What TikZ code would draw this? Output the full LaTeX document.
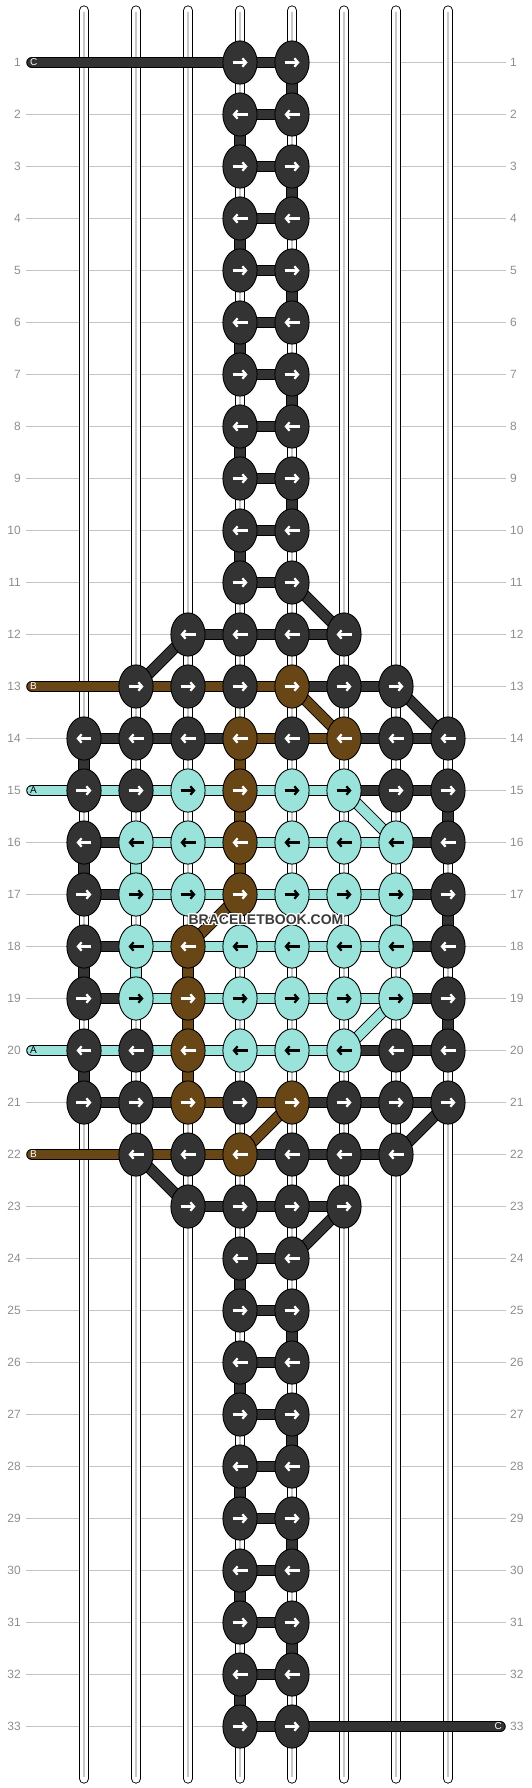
\documentclass[tikz,border=0pt]{standalone}
\usepackage{fontspec}
\setmainfont{Liberation Sans}
\usepackage{contour}
\contourlength{1.3pt}
\usetikzlibrary{shapes.geometric,arrows.meta}
\definecolor{cD}{HTML}{333333}
\definecolor{cA}{HTML}{99E3DA}
\definecolor{cB}{HTML}{684616}
\definecolor{gridline}{HTML}{C4C4C4}
\definecolor{gridtext}{HTML}{8E8E8E}
\definecolor{strandline}{HTML}{C8C8C8}
\definecolor{wmtext}{HTML}{3A3A3A}
\pgfdeclarelayer{grid}
\pgfdeclarelayer{strands}
\pgfdeclarelayer{bars}
\pgfsetlayers{grid,strands,bars,main}
\tikzset{
  kn/.style={ellipse, draw=black, line width=0.9pt, minimum width=34.2pt, minimum height=43.2pt, inner sep=0pt},
  arrowline/.style={line width=2.3pt, -{Straight Barb[length=3.6pt,width=8.4pt]}},
  arrR/.style={path picture={\draw[arrowline,#1] ([xshift=-7.5pt]path picture bounding box.center) -- ([xshift=7.5pt]path picture bounding box.center);}},
  arrL/.style={path picture={\draw[arrowline,#1] ([xshift=7.5pt]path picture bounding box.center) -- ([xshift=-7.5pt]path picture bounding box.center);}},
  DR/.style={kn, fill=cD, arrR=white}, DL/.style={kn, fill=cD, arrL=white},
  AR/.style={kn, fill=cA, arrR=black}, AL/.style={kn, fill=cA, arrL=black},
  BR/.style={kn, fill=cB, arrR=white}, BL/.style={kn, fill=cB, arrL=white},
  bar/.style={draw=black, line width=0.9pt, double distance=9.7pt},
  bD/.style={bar, double=cD}, bA/.style={bar, double=cA}, bB/.style={bar, double=cB},
  strand/.style={draw=black, line width=0.9pt, double=white, double distance=8.4pt, line cap=round},
  strandmid/.style={draw=strandline, line width=1.5pt},
  rowline/.style={draw=gridline, line width=0.9pt},
  rowlab/.style={text=gridtext, font=\fontsize{12}{12}\selectfont, inner sep=0pt},
  endlab/.style={font=\fontsize{10}{10}\selectfont, inner sep=0pt},
}
\newcommand\hseg[3]{\pgfmathtruncatemacro\segnx{#2+1}\draw[#3] (k-#1-#2.center) -- (k-#1-\segnx.center);}
\newcommand\vseg[3]{\pgfmathtruncatemacro\segny{#1+1}\draw[#3] (k-#1-#2.center) -- (k-\segny-#2.center);}
\begin{document}
\begin{tikzpicture}[x=52pt,y=-52pt]
\useasboundingbox (-84pt,10.5pt) rectangle (448pt,-1777.5pt);
\begin{pgfonlayer}{grid}
\foreach \r in {1,...,33} {
  \draw[rowline] (-1.115,\r) -- (8.115,\r);
  \node[rowlab, anchor=east] (ll-\r) at (-1.2115,\r) {\r};
  \node[rowlab, anchor=west] (lr-\r) at (8.192,\r) {\r};
}
\end{pgfonlayer}
\begin{pgfonlayer}{strands}
\foreach \c in {0,...,7} {
  \draw[strand] (\c,0) -- (\c,34);
  \draw[strandmid] (\c,0.03) -- (\c,33.97);
}
\end{pgfonlayer}
% knots
\foreach \r in {1,3,...,11,25,27,...,33} \foreach \c in {3,4} \node[DR] (k-\r-\c) at (\c,\r) {};
\foreach \r in {2,4,...,10,24,26,...,32} \foreach \c in {3,4} \node[DL] (k-\r-\c) at (\c,\r) {};
\foreach \c in {2,...,5} \node[DL] (k-12-\c) at (\c,12) {};
\foreach \c/\t in {1/DR,2/DR,3/DR,4/BR,5/DR,6/DR} \node[\t] (k-13-\c) at (\c,13) {};
\foreach \c/\t in {0/DL,1/DL,2/DL,3/BL,4/DL,5/BL,6/DL,7/DL} \node[\t] (k-14-\c) at (\c,14) {};
\foreach \c/\t in {0/DR,1/DR,2/AR,3/BR,4/AR,5/AR,6/DR,7/DR} \node[\t] (k-15-\c) at (\c,15) {};
\foreach \c/\t in {0/DL,1/AL,2/AL,3/BL,4/AL,5/AL,6/AL,7/DL} \node[\t] (k-16-\c) at (\c,16) {};
\foreach \c/\t in {0/DR,1/AR,2/AR,3/BR,4/AR,5/AR,6/AR,7/DR} \node[\t] (k-17-\c) at (\c,17) {};
\foreach \c/\t in {0/DL,1/AL,2/BL,3/AL,4/AL,5/AL,6/AL,7/DL} \node[\t] (k-18-\c) at (\c,18) {};
\foreach \c/\t in {0/DR,1/AR,2/BR,3/AR,4/AR,5/AR,6/AR,7/DR} \node[\t] (k-19-\c) at (\c,19) {};
\foreach \c/\t in {0/DL,1/DL,2/BL,3/AL,4/AL,5/AL,6/DL,7/DL} \node[\t] (k-20-\c) at (\c,20) {};
\foreach \c/\t in {0/DR,1/DR,2/BR,3/DR,4/BR,5/DR,6/DR,7/DR} \node[\t] (k-21-\c) at (\c,21) {};
\foreach \c/\t in {1/DL,2/DL,3/BL,4/DL,5/DL,6/DL} \node[\t] (k-22-\c) at (\c,22) {};
\foreach \c in {2,...,5} \node[DR] (k-23-\c) at (\c,23) {};
% free ends
\coordinate (inC) at (-1,1);
\coordinate (inB1) at (-1,13);
\coordinate (inA1) at (-1,15);
\coordinate (inA2) at (-1,20);
\coordinate (inB2) at (-1,22);
\coordinate (outC) at (8,33);
\begin{pgfonlayer}{bars}
\draw[bD, line cap=round] (inC) -- (k-1-3.center);
\draw[bB, line cap=round] (inB1) -- (k-13-1.center);
\draw[bA, line cap=round] (inA1) -- (k-15-0.center);
\draw[bA, line cap=round] (inA2) -- (k-20-0.center);
\draw[bB, line cap=round] (inB2) -- (k-22-1.center);
\draw[bD, line cap=round] (k-33-4.center) -- (outC);
\foreach \r in {1,...,11,24,25,...,33} {\hseg{\r}{3}{bD}}
\foreach \r in {1,3,...,9,25,27,...,31} {\vseg{\r}{4}{bD}}
\foreach \r in {2,4,...,10,24,26,...,32} {\vseg{\r}{3}{bD}}
\draw[bD] (k-11-4.center) -- (k-12-5.center);
\foreach \c in {2,3,4} {\hseg{12}{\c}{bD}}
\draw[bD] (k-12-2.center) -- (k-13-1.center);
\foreach \c/\t in {1/bB,2/bB,3/bB,4/bD,5/bD} {\hseg{13}{\c}{\t}}
\draw[bB] (k-13-4.center) -- (k-14-5.center);
\draw[bD] (k-13-6.center) -- (k-14-7.center);
\foreach \c/\t in {0/bD,1/bD,2/bD,3/bB,4/bB,5/bD,6/bD} {\hseg{14}{\c}{\t}}
\vseg{14}{0}{bD} \vseg{14}{3}{bB}
\foreach \c/\t in {0/bA,1/bA,2/bA,3/bA,4/bA,5/bD,6/bD} {\hseg{15}{\c}{\t}}
\draw[bA] (k-15-5.center) -- (k-16-6.center);
\vseg{15}{3}{bB} \vseg{15}{7}{bD}
\foreach \c/\t in {0/bD,1/bA,2/bA,3/bA,4/bA,5/bA,6/bD} {\hseg{16}{\c}{\t}}
\vseg{16}{0}{bD} \vseg{16}{1}{bA} \vseg{16}{3}{bB}
\foreach \c/\t in {0/bD,1/bA,2/bA,3/bA,4/bA,5/bA,6/bD} {\hseg{17}{\c}{\t}}
\draw[bB] (k-17-3.center) -- (k-18-2.center);
\vseg{17}{6}{bA} \vseg{17}{7}{bD}
\foreach \c/\t in {0/bD,1/bA,2/bA,3/bA,4/bA,5/bA,6/bD} {\hseg{18}{\c}{\t}}
\vseg{18}{0}{bD} \vseg{18}{1}{bA} \vseg{18}{2}{bB}
\foreach \c/\t in {0/bD,1/bA,2/bA,3/bA,4/bA,5/bA,6/bD} {\hseg{19}{\c}{\t}}
\draw[bA] (k-19-6.center) -- (k-20-5.center);
\vseg{19}{2}{bB} \vseg{19}{7}{bD}
\foreach \c/\t in {0/bA,1/bA,2/bA,3/bA,4/bA,5/bD,6/bD} {\hseg{20}{\c}{\t}}
\vseg{20}{0}{bD} \vseg{20}{2}{bB}
\foreach \c/\t in {0/bD,1/bD,2/bB,3/bB,4/bD,5/bD,6/bD} {\hseg{21}{\c}{\t}}
\draw[bB] (k-21-4.center) -- (k-22-3.center);
\draw[bD] (k-21-7.center) -- (k-22-6.center);
\foreach \c/\t in {1/bB,2/bB,3/bD,4/bD,5/bD} {\hseg{22}{\c}{\t}}
\draw[bD] (k-22-1.center) -- (k-23-2.center);
\foreach \c in {2,3,4} {\hseg{23}{\c}{bD}}
\draw[bD] (k-23-5.center) -- (k-24-4.center);
\end{pgfonlayer}
% end labels
\node[endlab, text=white, anchor=west] (lab-C1) at (-1.038,1) {C};
\node[endlab, text=white, anchor=west] (lab-B1) at (-1.038,13) {B};
\node[endlab, text=black, anchor=west] (lab-A1) at (-1.038,15) {A};
\node[endlab, text=black, anchor=west] (lab-A2) at (-1.038,20) {A};
\node[endlab, text=white, anchor=west] (lab-B2) at (-1.038,22) {B};
\node[endlab, text=white, anchor=east] (lab-C2) at (8.038,33) {C};
% watermark
\node[inner sep=0pt, text=wmtext, font=\fontsize{14}{14}\selectfont\bfseries] (wm) at (3.5,17.5) {\contour{white}{BRACELETBOOK.COM}};
\end{tikzpicture}
\end{document}
